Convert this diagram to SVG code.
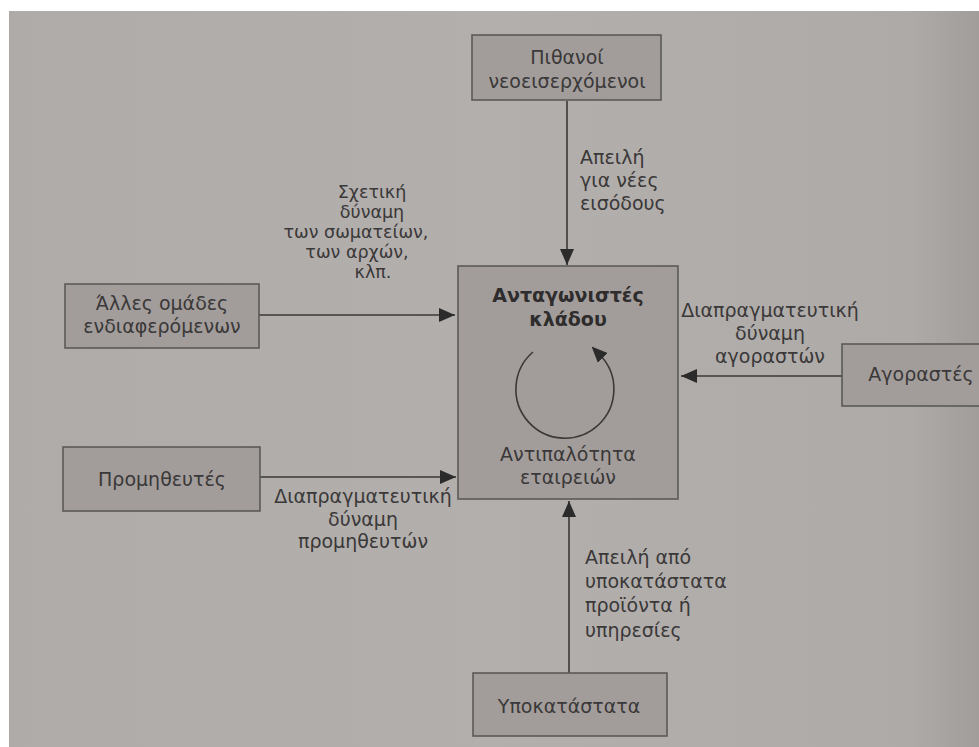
<svg xmlns="http://www.w3.org/2000/svg" width="979" height="747" viewBox="0 0 979 747">
  <defs>
    <linearGradient id="page" x1="0" y1="0" x2="1" y2="0">
      <stop offset="0" stop-color="#afaba9"/>
      <stop offset="0.5" stop-color="#b3afad"/>
      <stop offset="0.93" stop-color="#adaaa8"/>
      <stop offset="1" stop-color="#a19d9b"/>
    </linearGradient>
    <marker id="head" viewBox="0 0 16 14" refX="16" refY="7" markerWidth="16" markerHeight="14" markerUnits="userSpaceOnUse" orient="auto">
      <path d="M0,0 L16,7 L0,14 Z" fill="#2b2b2b"/>
    </marker>
    <marker id="headSmall" viewBox="0 0 16 14" refX="4" refY="7" markerWidth="16" markerHeight="14" markerUnits="userSpaceOnUse" orient="auto">
      <path d="M0,0 L16,7 L0,14 Z" fill="#2b2b2b"/>
    </marker>
  </defs>
  <style>
    .box { fill: #a29d9b; stroke: #5c5a59; stroke-width: 1.6; }
    .txt { font-family: "DejaVu Sans", "Liberation Sans", sans-serif; font-size: 19px; fill: #3a3838; }
    .small { font-size: 17.5px; }
    .mid { text-anchor: middle; }
    .bold { font-weight: bold; fill: #2e2c2c; }
    .edge { stroke: #3a3838; stroke-width: 1.6; fill: none; }
  </style>

  <!-- page -->
  <rect x="0" y="0" width="979" height="747" fill="#ffffff"/>
  <rect x="9" y="11" width="970" height="736" fill="url(#page)"/>

  <!-- connectors -->
  <g id="connectors">
    <line class="edge" x1="567" y1="101" x2="567" y2="265" marker-end="url(#head)"/>
    <line class="edge" x1="259" y1="315" x2="455" y2="315" marker-end="url(#head)"/>
    <line class="edge" x1="260" y1="477" x2="456" y2="477" marker-end="url(#head)"/>
    <line class="edge" x1="842" y1="376" x2="681" y2="376" marker-end="url(#head)"/>
    <line class="edge" x1="569" y1="673" x2="569" y2="501" marker-end="url(#head)"/>

    <text class="txt" x="580"><tspan x="580" y="164">Απειλή</tspan><tspan x="580" y="187">για νέες</tspan><tspan x="580" y="210">εισόδους</tspan></text>

    <text class="txt small mid"><tspan x="372" y="198">Σχετική</tspan><tspan x="372" y="218">δύναμη</tspan><tspan x="356" y="238">των σωματείων,</tspan><tspan x="357" y="258">των αρχών,</tspan><tspan x="373" y="278">κλπ.</tspan></text>

    <text class="txt mid"><tspan x="770" y="317">Διαπραγματευτική</tspan><tspan x="770" y="340">δύναμη</tspan><tspan x="770" y="363">αγοραστών</tspan></text>

    <text class="txt mid"><tspan x="363" y="503">Διαπραγματευτική</tspan><tspan x="363" y="526">δύναμη</tspan><tspan x="363" y="548">προμηθευτών</tspan></text>

    <text class="txt"><tspan x="585" y="564">Απειλή από</tspan><tspan x="585" y="588">υποκατάστατα</tspan><tspan x="585" y="612">προϊόντα ή</tspan><tspan x="585" y="637">υπηρεσίες</tspan></text>
  </g>

  <!-- potential entrants -->
  <g id="entrants">
    <rect class="box" x="472" y="35" width="189" height="65"/>
    <text class="txt mid"><tspan x="567" y="64">Πιθανοί</tspan><tspan x="567" y="88">νεοεισερχόμενοι</tspan></text>
  </g>

  <!-- other stakeholders -->
  <g id="stakeholders">
    <rect class="box" x="65" y="284" width="194" height="64"/>
    <text class="txt mid"><tspan x="162" y="310">Άλλες ομάδες</tspan><tspan x="162" y="333">ενδιαφερόμενων</tspan></text>
  </g>

  <!-- suppliers -->
  <g id="suppliers">
    <rect class="box" x="63" y="447" width="197" height="64"/>
    <text class="txt mid" x="162" y="486">Προμηθευτές</text>
  </g>

  <!-- industry competitors -->
  <g id="competitors">
    <rect class="box" x="458" y="266" width="220" height="233"/>
    <text class="txt mid bold"><tspan x="568" y="302">Ανταγωνιστές</tspan><tspan x="568" y="326">κλάδου</tspan></text>
    <path class="edge" d="M533 352 A49 49 0 1 0 600 355" marker-end="url(#headSmall)"/>
    <text class="txt mid"><tspan x="568" y="461">Αντιπαλότητα</tspan><tspan x="568" y="484">εταιρειών</tspan></text>
  </g>

  <!-- buyers -->
  <g id="buyers">
    <rect class="box" x="842" y="344" width="150" height="62"/>
    <text class="txt mid" x="921" y="381">Αγοραστές</text>
  </g>

  <!-- substitutes -->
  <g id="substitutes">
    <rect class="box" x="473" y="673" width="194" height="63"/>
    <text class="txt mid" x="569" y="713">Υποκατάστατα</text>
  </g>
</svg>
